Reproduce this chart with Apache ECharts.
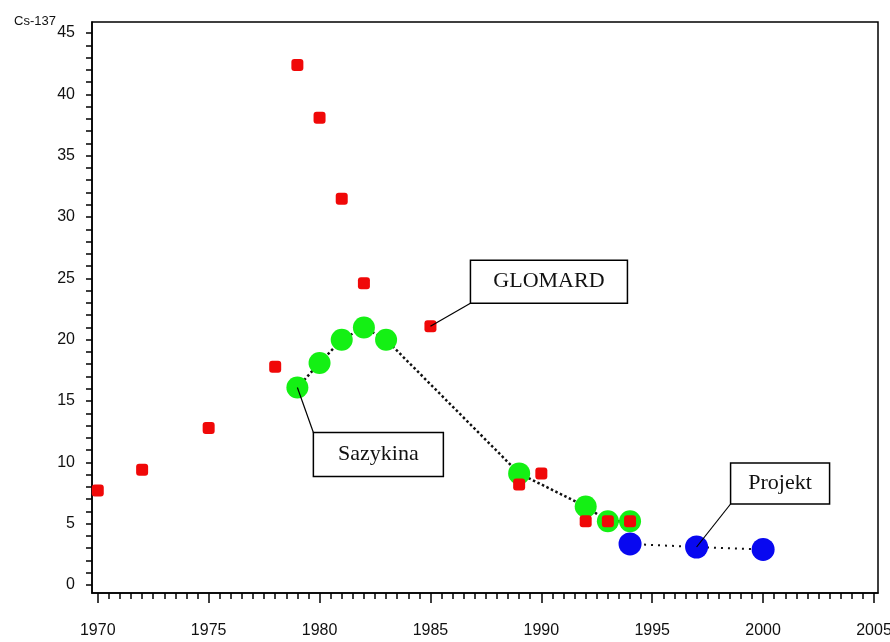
<!DOCTYPE html>
<html>
<head>
<meta charset="utf-8">
<script src="https://cdn.jsdelivr.net/npm/echarts@6/dist/echarts.min.js"></script>
<style>
  html, body { margin: 0; padding: 0; background: #fff; }
  #chart { width: 890px; height: 642px; }
</style>
</head>
<body>
<div id="chart"></div>
<script>
// GLOMARD measurements (red)
const glomardYears = [1970, 1972, 1975, 1978, 1979, 1980, 1981, 1982, 1985, 1989, 1990, 1992, 1993, 1994];
const glomardValues = [7.7, 9.4, 12.8, 17.8, 42.4, 38.1, 31.5, 24.6, 21.1, 8.2, 9.1, 5.2, 5.2, 5.2];

// Sazykina model (green)
const sazykinaYears = [1979, 1980, 1981, 1982, 1983, 1989, 1992, 1993, 1994];
const sazykinaValues = [16.1, 18.1, 20.0, 21.0, 20.0, 9.1, 6.4, 5.2, 5.2];

// Projekt estimates (blue)
const projektYears = [1994, 1997, 2000];
const projektValues = [3.35, 3.1, 2.9];

// Axis ticks
const yearTicks = [1970, 1975, 1980, 1985, 1990, 1995, 2000, 2005];
const valueTicks = [0, 5, 10, 15, 20, 25, 30, 35, 40, 45];

const yearMinor = [];
for (let y = 1970; y <= 2005; y += 0.5) yearMinor.push(y);
const valueMinor = [];
for (let v = 0; v <= 45; v += 1) valueMinor.push(v);

const pair = (xs, ys) => xs.map((x, i) => [x, ys[i]]);

const X_MIN = 1969.74, X_MAX = 2005.18;
const Y_MIN = -0.65, Y_MAX = 45.9;

const chart = echarts.init(document.getElementById('chart'));

const labelFont = { fontFamily: 'Liberation Sans, Arial, sans-serif', color: '#111' };

chart.setOption({
  animation: false,
  backgroundColor: '#fff',
  grid: {
    left: 92, right: 12, top: 22, bottom: 49,
    show: true, borderColor: '#000', borderWidth: 1.5,
    outerBoundsMode: 'none'
  },
  title: {
    text: 'Cs-137', left: 9, top: 10,
    textStyle: { fontSize: 13, fontWeight: 'normal', fontFamily: 'Liberation Sans, Arial, sans-serif', color: '#111' }
  },
  xAxis: [
    {
      type: 'value', min: X_MIN, max: X_MAX, position: 'bottom',
      axisLine: { show: true, onZero: false, lineStyle: { color: '#000', width: 1.5 } },
      axisTick: { show: true, customValues: yearTicks, length: 10, lineStyle: { color: '#000', width: 1.5 } },
      axisLabel: { customValues: yearTicks, margin: 30, fontSize: 16, formatter: v => String(Math.round(v)), ...labelFont },
      splitLine: { show: false }
    },
    {
      type: 'value', min: X_MIN, max: X_MAX, position: 'bottom',
      axisLine: { show: false, onZero: false },
      axisTick: { show: true, customValues: yearMinor, length: 6, lineStyle: { color: '#000', width: 1.5 } },
      axisLabel: { show: false },
      splitLine: { show: false }
    }
  ],
  yAxis: [
    {
      type: 'value', min: Y_MIN, max: Y_MAX, position: 'left',
      axisLine: { show: true, onZero: false, lineStyle: { color: '#000', width: 1.5 } },
      axisTick: { show: true, customValues: valueMinor, length: 6, lineStyle: { color: '#000', width: 1.5 } },
      axisLabel: { customValues: valueTicks, margin: 17, fontSize: 16, formatter: v => String(Math.round(v)), ...labelFont },
      splitLine: { show: false }
    }
  ],
  series: [
    {
      name: 'Sazykina', type: 'line', data: pair(sazykinaYears, sazykinaValues),
      symbol: 'circle', symbolSize: 22,
      itemStyle: { color: '#14f014', opacity: 1 },
      lineStyle: { color: '#111', width: 2.5, type: 'dotted' },
      z: 3
    },
    {
      name: 'Projekt', type: 'line', data: pair(projektYears, projektValues),
      symbol: 'circle', symbolSize: 23,
      itemStyle: { color: '#0808f0', opacity: 1 },
      lineStyle: { color: '#111', width: 2, type: [2, 5] },
      z: 4
    },
    {
      name: 'GLOMARD', type: 'scatter', data: pair(glomardYears, glomardValues),
      symbol: 'roundRect', symbolSize: 12,
      itemStyle: { color: '#f00808', opacity: 1, borderRadius: 4 },
      z: 5
    }
  ]
});

// Callout boxes linked to a data point of each series
const callouts = [
  { text: 'GLOMARD', at: [1985, 21.1], dx: 40, dy: -66, w: 157, h: 43 },
  { text: 'Sazykina', at: [1979, 16.1], dx: 16, dy: 45, w: 130, h: 44 },
  { text: 'Projekt', at: [1997, 3.1], dx: 34, dy: -84, w: 99, h: 41 }
];

const graphics = [];
callouts.forEach(c => {
  const p = chart.convertToPixel({ gridIndex: 0 }, c.at);
  const bx = p[0] + c.dx, by = p[1] + c.dy;
  const cornerY = c.dy < 0 ? by + c.h : by;
  graphics.push({
    type: 'line', z: 10,
    shape: { x1: p[0], y1: p[1], x2: bx, y2: cornerY },
    style: { stroke: '#000', lineWidth: 1.2 }
  });
  graphics.push({
    type: 'rect', z: 11,
    shape: { x: bx, y: by, width: c.w, height: c.h },
    style: { fill: '#fff', stroke: '#000', lineWidth: 1.5 }
  });
  graphics.push({
    type: 'text', z: 12,
    x: bx + c.w / 2, y: by + c.h / 2,
    style: {
      text: c.text, fill: '#111',
      font: '22px "Liberation Serif", "Times New Roman", serif',
      align: 'center', verticalAlign: 'middle'
    }
  });
});
chart.setOption({ graphic: graphics });
</script>
</body>
</html>
